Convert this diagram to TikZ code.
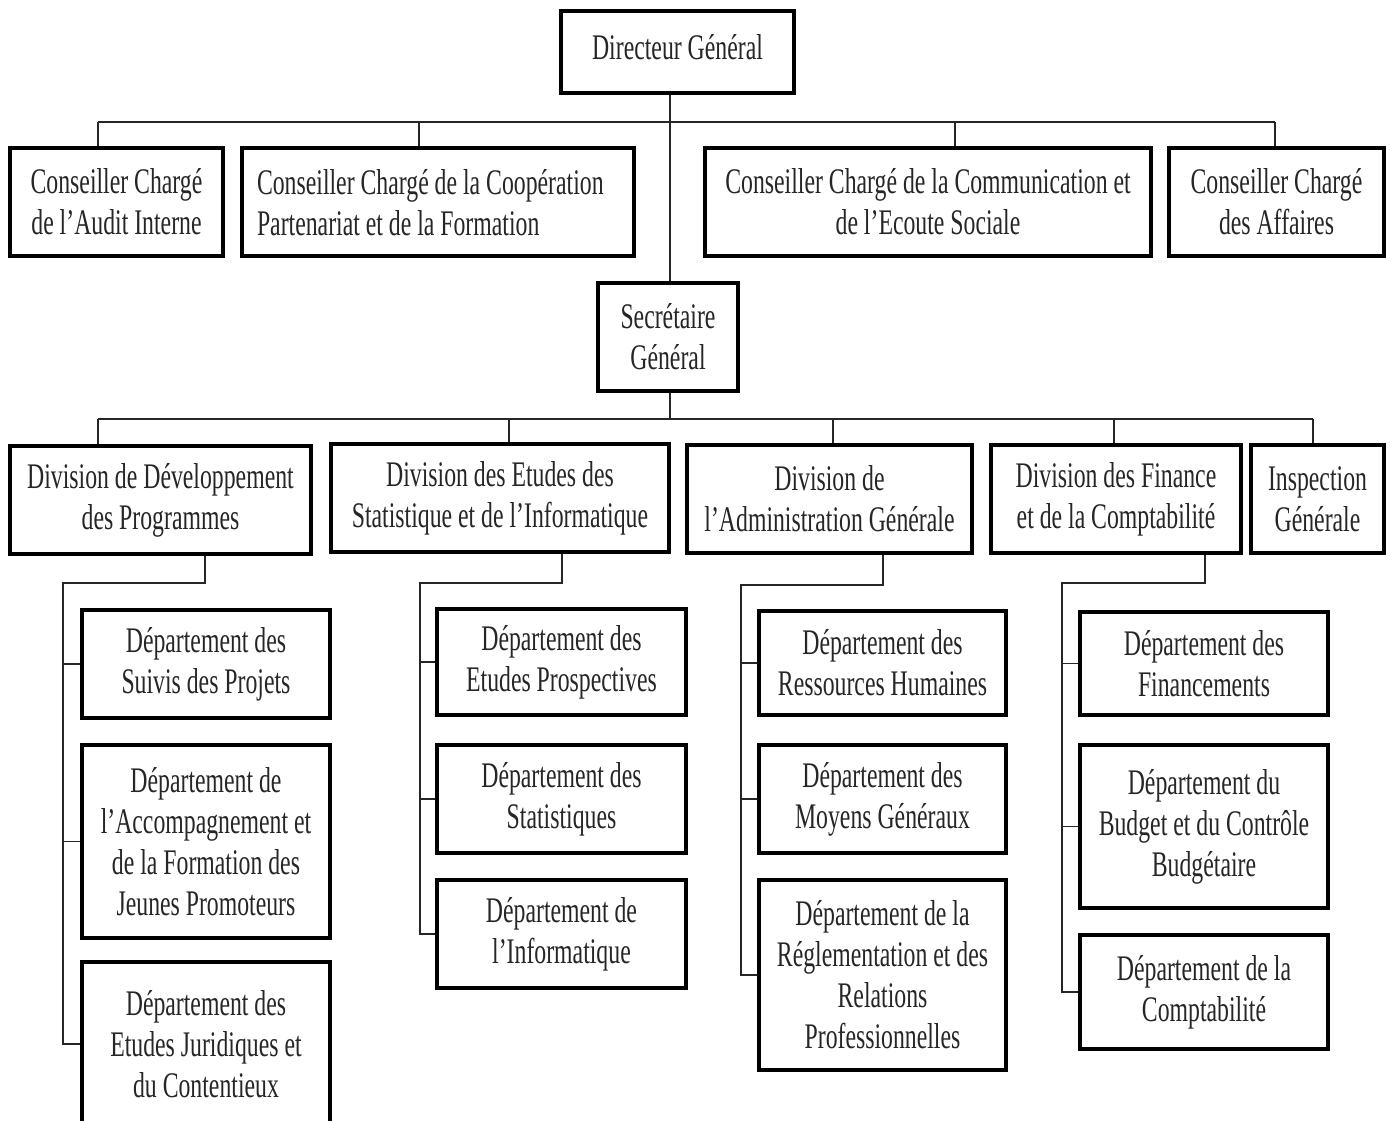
\documentclass[tikz,border=0pt]{standalone}
\usepackage{fontspec}
\setmainfont[FakeStretch=0.66]{Liberation Serif}
\begin{document}
\begin{tikzpicture}[x=1pt,y=-1pt,
  unit/.style={draw=black, line width=3.2pt, fill=white, align=center, inner sep=0pt,
    font=\fontsize{36}{41}\selectfont, text=black!85},
  link/.style={line width=1.8pt, black!85}]
\useasboundingbox (0,0) rectangle (1390,1120);
\fill[white] (0,0) rectangle (1390,1120);

% ---- top level ----
\node[unit, minimum width=233, minimum height=82] (dg) at (677.5,52)
  {\raisebox{5pt}[\height][\depth]{Directeur Général}};

\node[unit, minimum width=213, minimum height=108] (c1) at (116.5,202) {Conseiller Chargé\\de l’Audit Interne};
\node[unit, minimum width=392, minimum height=108] (c2) at (438,202)
  {\raisebox{-5pt}[\height][\depth]{\makebox[362pt][l]{\begin{tabular}{@{}l@{}}Conseiller Chargé de la Coopération\\Partenariat et de la Formation\end{tabular}}}};
\node[unit, minimum width=446, minimum height=108] (c3) at (928,202) {Conseiller Chargé de la Communication et\\de l’Ecoute Sociale};
\node[unit, minimum width=215, minimum height=108] (c4) at (1276.5,202) {Conseiller Chargé\\des Affaires};

\node[unit, minimum width=140, minimum height=108] (sg) at (668,337) {Secrétaire\\Général};

% ---- divisions ----
\node[unit, minimum width=301, minimum height=108] (d1) at (160.5,500) {Division de Développement\\des Programmes};
\node[unit, minimum width=338, minimum height=108] (d2) at (500,498) {Division des Etudes des\\Statistique et de l’Informatique};
\node[unit, minimum width=285, minimum height=108] (d3) at (829.5,499) {Division de\\l’Administration Générale};
\node[unit, minimum width=250, minimum height=108] (d4) at (1116,499) {Division des Finance\\et de la Comptabilité};
\node[unit, minimum width=133, minimum height=108] (d5) at (1317.5,499) {Inspection\\Générale};

% ---- departments ----
\node[unit, minimum width=248, minimum height=108] (p1) at (206,664) {Département des\\Suivis des Projets};
\node[unit, minimum width=248, minimum height=193] (p2) at (206,841.5) {Département de\\l’Accompagnement et\\de la Formation des\\Jeunes Promoteurs};
\node[unit, minimum width=248, minimum height=164] (p3) at (206,1044) {Département des\\Etudes Juridiques et\\du Contentieux};

\node[unit, minimum width=249, minimum height=106] (s1) at (561.5,662) {Département des\\Etudes Prospectives};
\node[unit, minimum width=249, minimum height=108] (s2) at (561.5,799) {Département des\\Statistiques};
\node[unit, minimum width=249, minimum height=108] (s3) at (561.5,934) {Département de\\l’Informatique};

\node[unit, minimum width=247, minimum height=104] (a1) at (882.5,663) {Département des\\Ressources Humaines};
\node[unit, minimum width=247, minimum height=108] (a2) at (882.5,799) {Département des\\Moyens Généraux};
\node[unit, minimum width=247, minimum height=190] (a3) at (882.5,975) {Département de la\\Réglementation et des\\Relations\\Professionnelles};

\node[unit, minimum width=248, minimum height=103] (f1) at (1204,663.5) {Département des\\Financements};
\node[unit, minimum width=248, minimum height=163] (f2) at (1204,826.5) {Département du\\Budget et du Contrôle\\Budgétaire};
\node[unit, minimum width=248, minimum height=114] (f3) at (1204,992) {Département de la\\Comptabilité};

% ---- bus points ----
\coordinate (trunk) at (670,0);
\coordinate (b1) at (98,122);   \coordinate (b2) at (419,122);
\coordinate (b3) at (955,122);  \coordinate (b4) at (1275,122);
\coordinate (e1) at (98,419);   \coordinate (e2) at (509,419);
\coordinate (e3) at (833,419);  \coordinate (e4) at (1114,419);
\coordinate (e5) at (1313,419);

% director to secretary general, with the advisers' bus
\draw[link] (dg.south -| trunk) -- (sg.north -| trunk);
\draw[link] (b1) -- (b4);
\draw[link] (b1) -- (b1 |- c1.north);
\draw[link] (b2) -- (b2 |- c2.north);
\draw[link] (b3) -- (b3 |- c3.north);
\draw[link] (b4) -- (b4 |- c4.north);

% secretary general to the divisions
\draw[link] (sg.south -| trunk) -- (trunk |- e1);
\draw[link] (e1) -- (e5);
\draw[link] (e1) -- (e1 |- d1.north);
\draw[link] (e2) -- (e2 |- d2.north);
\draw[link] (e3) -- (e3 |- d3.north);
\draw[link] (e4) -- (e4 |- d4.north);
\draw[link] (e5) -- (e5 |- d5.north);

% divisions to their departments
\coordinate (k1) at (205,583); \coordinate (r1) at (63,583);
\coordinate (k2) at (562,583); \coordinate (r2) at (420,583);
\coordinate (k3) at (883,585); \coordinate (r3) at (741,585);
\coordinate (k4) at (1205,583); \coordinate (r4) at (1062,583);

\draw[link] (d1.south -| k1) -- (k1) -- (r1) -- (r1 |- p3.west) -- (p3.west);
\draw[link] (r1 |- p1.west) -- (p1.west);
\draw[link] (r1 |- p2.west) -- (p2.west);

\draw[link] (d2.south -| k2) -- (k2) -- (r2) -- (r2 |- s3.west) -- (s3.west);
\draw[link] (r2 |- s1.west) -- (s1.west);
\draw[link] (r2 |- s2.west) -- (s2.west);

\draw[link] (d3.south -| k3) -- (k3) -- (r3) -- (r3 |- a3.west) -- (a3.west);
\draw[link] (r3 |- a1.west) -- (a1.west);
\draw[link] (r3 |- a2.west) -- (a2.west);

\draw[link] (d4.south -| k4) -- (k4) -- (r4) -- (r4 |- f3.west) -- (f3.west);
\draw[link] (r4 |- f1.west) -- (f1.west);
\draw[link] (r4 |- f2.west) -- (f2.west);
\end{tikzpicture}
\end{document}
